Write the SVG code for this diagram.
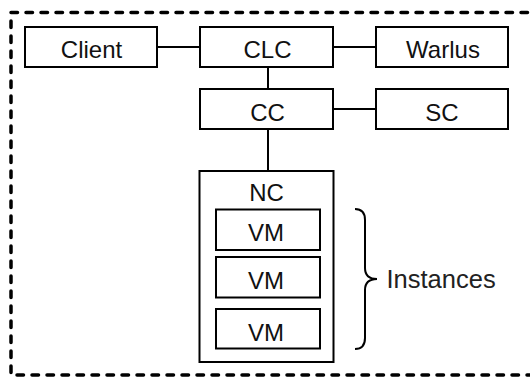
<svg xmlns="http://www.w3.org/2000/svg" width="530" height="379" viewBox="0 0 530 379">
  <style>
    .box { fill: #fff; stroke: #000; stroke-width: 2; }
    .lbl { font-family: "Liberation Sans", Arial, sans-serif; font-size: 24px; fill: #111; text-anchor: middle; }
    .wire { stroke: #000; stroke-width: 2; fill: none; }
    .frame { fill: none; stroke: #000; stroke-width: 3.5; stroke-dasharray: 6.5 8.5; stroke-linecap: round; }
  </style>

  <rect width="530" height="379" fill="#fff"/>

  <!-- dashed system boundary -->
  <rect class="frame" x="11" y="12.5" width="530" height="362.5"/>

  <g id="connectors">
    <line class="wire" x1="157" y1="47" x2="200" y2="47"/>
    <line class="wire" x1="333" y1="47" x2="376" y2="47"/>
    <line class="wire" x1="268" y1="67" x2="268" y2="89"/>
    <line class="wire" x1="333" y1="109" x2="376" y2="109"/>
    <line class="wire" x1="268" y1="129" x2="268" y2="171"/>
  </g>

  <g id="client">
    <rect class="box" x="25" y="27" width="132" height="40"/>
    <text class="lbl" x="91.5" y="58">Client</text>
  </g>
  <g id="clc">
    <rect class="box" x="200" y="27" width="133" height="40"/>
    <text class="lbl" x="267.5" y="58">CLC</text>
  </g>
  <g id="warlus">
    <rect class="box" x="376" y="27" width="132" height="40"/>
    <text class="lbl" x="443" y="58">Warlus</text>
  </g>
  <g id="cc">
    <rect class="box" x="200" y="89" width="133" height="40"/>
    <text class="lbl" x="267.5" y="121">CC</text>
  </g>
  <g id="sc">
    <rect class="box" x="376" y="89" width="132" height="40"/>
    <text class="lbl" x="442" y="121">SC</text>
  </g>

  <g id="nc">
    <rect class="box" x="199.5" y="171" width="134" height="191"/>
    <text class="lbl" x="266.5" y="201">NC</text>
  </g>
  <g id="vm1">
    <rect class="box" x="216" y="209.5" width="104" height="40.5"/>
    <text class="lbl" x="266" y="241">VM</text>
  </g>
  <g id="vm2">
    <rect class="box" x="216" y="257" width="104" height="40.5"/>
    <text class="lbl" x="266" y="289">VM</text>
  </g>
  <g id="vm3">
    <rect class="box" x="216" y="309" width="104" height="39.5"/>
    <text class="lbl" x="266" y="340.5">VM</text>
  </g>

  <g id="instances">
    <path class="wire" d="M355,209 Q365,209 365,220 L365,268 Q365,279 377,279 Q365,279 365,290 L365,338 Q365,349 355,349"/>
    <text x="386.5" y="287.5" font-family="'Liberation Sans', Arial, sans-serif" font-size="25.5" fill="#222">Instances</text>
  </g>
</svg>
